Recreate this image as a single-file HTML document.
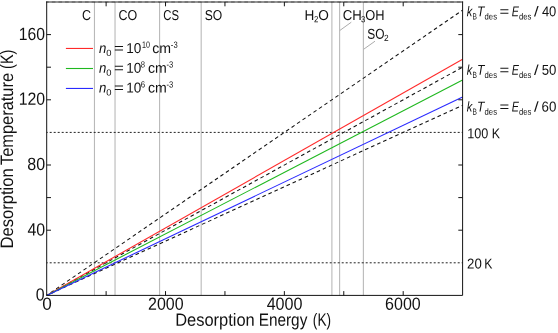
<!DOCTYPE html>
<html><head><meta charset="utf-8"><title>Desorption</title>
<style>html,body{margin:0;padding:0;background:#fff;overflow:hidden;}svg{display:block;will-change:transform;}text{text-rendering:geometricPrecision;font-family:"Liberation Sans",sans-serif;fill:#111;}</style>
</head><body>
<svg width="558" height="333" viewBox="0 0 558 333">
<rect x="0" y="0" width="558" height="333" fill="#fff"/>
<line x1="94.47" y1="2.0" x2="94.47" y2="295.4" stroke="#b9b9b9" stroke-width="1.1"/>
<line x1="115.03" y1="2.0" x2="115.03" y2="295.4" stroke="#b9b9b9" stroke-width="1.1"/>
<line x1="159.59" y1="2.0" x2="159.59" y2="295.4" stroke="#b9b9b9" stroke-width="1.1"/>
<line x1="201.18" y1="2.0" x2="201.18" y2="295.4" stroke="#b9b9b9" stroke-width="1.1"/>
<line x1="331.89" y1="2.0" x2="331.89" y2="295.4" stroke="#b9b9b9" stroke-width="1.1"/>
<line x1="339.61" y1="2.0" x2="339.61" y2="295.4" stroke="#b9b9b9" stroke-width="1.1"/>
<line x1="363.38" y1="2.0" x2="363.38" y2="295.4" stroke="#b9b9b9" stroke-width="1.1"/>
<line x1="351.3" y1="22.2" x2="339.8" y2="30.5" stroke="#acacac" stroke-width="1"/>
<line x1="375" y1="41.2" x2="363.6" y2="49.3" stroke="#acacac" stroke-width="1"/>
<line x1="46.7" y1="132.40" x2="462.6" y2="132.40" stroke="#222" stroke-width="1" stroke-dasharray="2 2" stroke-dashoffset="1"/>
<line x1="46.7" y1="262.80" x2="462.6" y2="262.80" stroke="#222" stroke-width="1" stroke-dasharray="2 2" stroke-dashoffset="1"/>
<line x1="46.7" y1="295.4" x2="462.6" y2="10.15" stroke="#111" stroke-width="1.05" stroke-dasharray="3.64 3" stroke-dashoffset="1.86"/>
<line x1="46.7" y1="295.4" x2="462.6" y2="67.20" stroke="#111" stroke-width="1.05" stroke-dasharray="3.64 3" stroke-dashoffset="1.86"/>
<line x1="46.7" y1="295.4" x2="462.6" y2="105.23" stroke="#111" stroke-width="1.05" stroke-dasharray="3.64 3" stroke-dashoffset="1.86"/>
<line x1="46.7" y1="295.4" x2="462.6" y2="59.2" stroke="#ff2a2a" stroke-width="1.1"/>
<line x1="46.7" y1="295.4" x2="462.6" y2="80.0" stroke="#1fb81f" stroke-width="1.1"/>
<line x1="46.7" y1="295.4" x2="462.6" y2="97.0" stroke="#2a2aff" stroke-width="1.1"/>
<line x1="46.2" y1="2.0" x2="463.1" y2="2.0" stroke="#2a2a2a" stroke-width="1"/>
<line x1="46.2" y1="2.0" x2="463.1" y2="2.0" stroke="#000" stroke-opacity="0.4" stroke-width="1" stroke-dasharray="3.64 3" stroke-dashoffset="1.04"/>
<polyline points="46.7,1.5 46.7,295.4 462.6,295.4 462.6,1.5" fill="none" stroke="#141414" stroke-width="1.0"/>
<line x1="106.11" y1="295.4" x2="106.11" y2="291.09999999999997" stroke="#141414" stroke-width="1"/>
<line x1="106.11" y1="2.0" x2="106.11" y2="6.3" stroke="#141414" stroke-width="1"/>
<line x1="165.53" y1="295.4" x2="165.53" y2="291.09999999999997" stroke="#141414" stroke-width="1"/>
<line x1="165.53" y1="2.0" x2="165.53" y2="6.3" stroke="#141414" stroke-width="1"/>
<line x1="224.94" y1="295.4" x2="224.94" y2="291.09999999999997" stroke="#141414" stroke-width="1"/>
<line x1="224.94" y1="2.0" x2="224.94" y2="6.3" stroke="#141414" stroke-width="1"/>
<line x1="284.36" y1="295.4" x2="284.36" y2="291.09999999999997" stroke="#141414" stroke-width="1"/>
<line x1="284.36" y1="2.0" x2="284.36" y2="6.3" stroke="#141414" stroke-width="1"/>
<line x1="343.77" y1="295.4" x2="343.77" y2="291.09999999999997" stroke="#141414" stroke-width="1"/>
<line x1="343.77" y1="2.0" x2="343.77" y2="6.3" stroke="#141414" stroke-width="1"/>
<line x1="403.19" y1="295.4" x2="403.19" y2="291.09999999999997" stroke="#141414" stroke-width="1"/>
<line x1="403.19" y1="2.0" x2="403.19" y2="6.3" stroke="#141414" stroke-width="1"/>
<line x1="46.7" y1="230.20" x2="51.0" y2="230.20" stroke="#141414" stroke-width="1"/>
<line x1="462.6" y1="230.20" x2="458.3" y2="230.20" stroke="#141414" stroke-width="1"/>
<line x1="46.7" y1="197.60" x2="51.0" y2="197.60" stroke="#141414" stroke-width="1"/>
<line x1="462.6" y1="197.60" x2="458.3" y2="197.60" stroke="#141414" stroke-width="1"/>
<line x1="46.7" y1="165.00" x2="51.0" y2="165.00" stroke="#141414" stroke-width="1"/>
<line x1="462.6" y1="165.00" x2="458.3" y2="165.00" stroke="#141414" stroke-width="1"/>
<line x1="46.7" y1="99.80" x2="51.0" y2="99.80" stroke="#141414" stroke-width="1"/>
<line x1="462.6" y1="99.80" x2="458.3" y2="99.80" stroke="#141414" stroke-width="1"/>
<line x1="46.7" y1="67.20" x2="51.0" y2="67.20" stroke="#141414" stroke-width="1"/>
<line x1="462.6" y1="67.20" x2="458.3" y2="67.20" stroke="#141414" stroke-width="1"/>
<line x1="46.7" y1="34.60" x2="51.0" y2="34.60" stroke="#141414" stroke-width="1"/>
<line x1="462.6" y1="34.60" x2="458.3" y2="34.60" stroke="#141414" stroke-width="1"/>
<line x1="65.9" y1="48.45" x2="93" y2="48.45" stroke="#ff2a2a" stroke-width="1.1"/>
<line x1="65.9" y1="68.5" x2="93" y2="68.5" stroke="#1fb81f" stroke-width="1.1"/>
<line x1="65.9" y1="88.45" x2="93" y2="88.45" stroke="#2a2aff" stroke-width="1.1"/>
<text transform="translate(18.81,39.90) rotate(0.1) scale(0.8877,1)" font-size="17.7">160</text>
<text transform="translate(18.70,104.70) rotate(0.1) scale(0.8949,1)" font-size="17.7">120</text>
<text transform="translate(27.31,170.00) rotate(0.1) scale(0.9051,1)" font-size="17.7">80</text>
<text transform="translate(27.43,235.40) rotate(0.1) scale(0.8986,1)" font-size="17.7">40</text>
<text transform="translate(35.78,300.50) rotate(0.1) scale(0.8983,1)" font-size="17.7">0</text>
<text transform="translate(42.23,309.80) rotate(0.1) scale(0.9692,1)" font-size="17.7">0</text>
<text transform="translate(148.00,309.70) rotate(0.1) scale(0.9024,1)" font-size="17.7">2000</text>
<text transform="translate(266.63,309.70) rotate(0.1) scale(0.9120,1)" font-size="17.7">4000</text>
<text transform="translate(385.08,309.70) rotate(0.1) scale(0.9054,1)" font-size="17.7">6000</text>
<text transform="translate(175.15,325.70) rotate(0.1) scale(0.9302,1)" font-size="17.7">Desorption</text>
<text transform="translate(258.74,325.70) rotate(0.1) scale(0.8665,1)" font-size="17.7">Energy</text>
<text transform="translate(312.85,325.70) rotate(0.1) scale(0.7711,1)" font-size="17.7">(K)</text>
<text transform="translate(13.10,248.56) rotate(-90) scale(0.9218,1)" font-size="18.0">Desorption</text>
<text transform="translate(13.10,164.96) rotate(-90) scale(0.9102,1)" font-size="18.0">Temperature</text>
<text transform="translate(13.10,68.90) rotate(-90) scale(0.8042,1)" font-size="18.0">(K)</text>
<text transform="translate(81.96,20.00) rotate(0.1) scale(0.8727,1)" font-size="14.3">C</text>
<text transform="translate(118.46,20.00) rotate(0.1) scale(0.8735,1)" font-size="14.3">CO</text>
<text transform="translate(163.22,20.00) rotate(0.1) scale(0.7902,1)" font-size="14.3">CS</text>
<text transform="translate(204.74,20.00) rotate(0.1) scale(0.8489,1)" font-size="14.3">SO</text>
<text transform="translate(304.59,20.00) rotate(0.1) scale(0.9507,1)" font-size="14.3">H</text>
<text transform="translate(314.01,22.20) rotate(0.1) scale(0.8772,1)" font-size="9.0">2</text>
<text transform="translate(318.36,20.00) rotate(0.1) scale(0.9522,1)" font-size="14.3">O</text>
<text transform="translate(342.83,20.00) rotate(0.1) scale(0.9221,1)" font-size="14.3">CH</text>
<text transform="translate(360.90,22.30) rotate(0.1) scale(0.8673,1)" font-size="9.0">3</text>
<text transform="translate(365.20,20.00) rotate(0.1) scale(0.8971,1)" font-size="14.3">OH</text>
<text transform="translate(367.35,38.70) rotate(0.1) scale(0.8334,1)" font-size="14.3">SO</text>
<text transform="translate(383.98,41.00) rotate(0.1) scale(0.9259,1)" font-size="9.0">2</text>
<text transform="translate(467.24,138.30) rotate(0.1) scale(0.8826,1)" font-size="14.3">100</text>
<text transform="translate(491.68,138.30) rotate(0.1) scale(0.8665,1)" font-size="14.3">K</text>
<text transform="translate(467.04,268.50) rotate(0.1) scale(0.9228,1)" font-size="14.3">20</text>
<text transform="translate(484.20,268.50) rotate(0.1) scale(0.8543,1)" font-size="14.3">K</text>
<text transform="translate(99.08,52.90) rotate(0.1) scale(0.9201,1)" font-size="14.3" font-style="italic">n</text>
<text transform="translate(106.23,55.90) rotate(0.1) scale(1.0460,1)" font-size="9.0">0</text>
<text transform="translate(114.07,52.90) rotate(0.1) scale(1.1799,1)" font-size="14.3">=</text>
<text transform="translate(126.17,52.90) rotate(0.1) scale(0.9469,1)" font-size="14.3">10</text>
<text transform="translate(141.96,47.80) rotate(0.1) scale(0.7913,1)" font-size="9.0">10</text>
<text transform="translate(152.21,52.90) rotate(0.1) scale(0.9876,1)" font-size="14.3">cm</text>
<text transform="translate(170.86,47.80) rotate(0.1) scale(0.8462,1)" font-size="9.0">-3</text>
<text transform="translate(99.08,72.70) rotate(0.1) scale(0.9201,1)" font-size="14.3" font-style="italic">n</text>
<text transform="translate(106.23,75.70) rotate(0.1) scale(1.0460,1)" font-size="9.0">0</text>
<text transform="translate(114.07,72.70) rotate(0.1) scale(1.1799,1)" font-size="14.3">=</text>
<text transform="translate(126.17,72.70) rotate(0.1) scale(0.9469,1)" font-size="14.3">10</text>
<text transform="translate(140.87,67.60) rotate(0.1) scale(0.8511,1)" font-size="9.0">8</text>
<text transform="translate(147.91,72.70) rotate(0.1) scale(0.9876,1)" font-size="14.3">cm</text>
<text transform="translate(166.56,67.60) rotate(0.1) scale(0.8462,1)" font-size="9.0">-3</text>
<text transform="translate(99.08,92.50) rotate(0.1) scale(0.9201,1)" font-size="14.3" font-style="italic">n</text>
<text transform="translate(106.23,95.50) rotate(0.1) scale(1.0460,1)" font-size="9.0">0</text>
<text transform="translate(114.07,92.50) rotate(0.1) scale(1.1799,1)" font-size="14.3">=</text>
<text transform="translate(126.17,92.50) rotate(0.1) scale(0.9469,1)" font-size="14.3">10</text>
<text transform="translate(140.80,87.40) rotate(0.1) scale(0.8677,1)" font-size="9.0">6</text>
<text transform="translate(147.91,92.50) rotate(0.1) scale(0.9876,1)" font-size="14.3">cm</text>
<text transform="translate(166.56,87.40) rotate(0.1) scale(0.8462,1)" font-size="9.0">-3</text>
<text transform="translate(466.81,16.20) rotate(0.1) scale(0.7740,1)" font-size="14.3" font-style="italic">k</text>
<text transform="translate(472.46,19.40) rotate(0.1) scale(0.7310,1)" font-size="9.0">B</text>
<text transform="translate(477.11,16.20) rotate(0.1) scale(0.8440,1)" font-size="14.3" font-style="italic">T</text>
<text transform="translate(484.58,19.40) rotate(0.1) scale(0.8547,1)" font-size="9.0">des</text>
<text transform="translate(499.48,16.20) rotate(0.1) scale(1.1655,1)" font-size="14.3">=</text>
<text transform="translate(511.77,16.20) rotate(0.1) scale(0.7481,1)" font-size="14.3" font-style="italic">E</text>
<text transform="translate(518.88,19.40) rotate(0.1) scale(0.8547,1)" font-size="9.0">des</text>
<text transform="translate(534.00,16.20) rotate(0.1) scale(1.1571,1)" font-size="14.3">/</text>
<text transform="translate(541.90,16.20) rotate(0.1) scale(0.9058,1)" font-size="14.3">40</text>
<text transform="translate(466.81,74.80) rotate(0.1) scale(0.7740,1)" font-size="14.3" font-style="italic">k</text>
<text transform="translate(472.46,78.00) rotate(0.1) scale(0.7310,1)" font-size="9.0">B</text>
<text transform="translate(477.11,74.80) rotate(0.1) scale(0.8440,1)" font-size="14.3" font-style="italic">T</text>
<text transform="translate(484.58,78.00) rotate(0.1) scale(0.8547,1)" font-size="9.0">des</text>
<text transform="translate(499.48,74.80) rotate(0.1) scale(1.1655,1)" font-size="14.3">=</text>
<text transform="translate(511.77,74.80) rotate(0.1) scale(0.7481,1)" font-size="14.3" font-style="italic">E</text>
<text transform="translate(518.88,78.00) rotate(0.1) scale(0.8547,1)" font-size="9.0">des</text>
<text transform="translate(534.00,74.80) rotate(0.1) scale(1.1571,1)" font-size="14.3">/</text>
<text transform="translate(541.67,74.80) rotate(0.1) scale(0.9207,1)" font-size="14.3">50</text>
<text transform="translate(466.81,111.50) rotate(0.1) scale(0.7740,1)" font-size="14.3" font-style="italic">k</text>
<text transform="translate(472.46,114.70) rotate(0.1) scale(0.7310,1)" font-size="9.0">B</text>
<text transform="translate(477.11,111.50) rotate(0.1) scale(0.8440,1)" font-size="14.3" font-style="italic">T</text>
<text transform="translate(484.58,114.70) rotate(0.1) scale(0.8547,1)" font-size="9.0">des</text>
<text transform="translate(499.48,111.50) rotate(0.1) scale(1.1655,1)" font-size="14.3">=</text>
<text transform="translate(511.77,111.50) rotate(0.1) scale(0.7481,1)" font-size="14.3" font-style="italic">E</text>
<text transform="translate(518.88,114.70) rotate(0.1) scale(0.8547,1)" font-size="9.0">des</text>
<text transform="translate(534.00,111.50) rotate(0.1) scale(1.1571,1)" font-size="14.3">/</text>
<text transform="translate(541.52,111.50) rotate(0.1) scale(0.9306,1)" font-size="14.3">60</text>
</svg>
</body></html>
